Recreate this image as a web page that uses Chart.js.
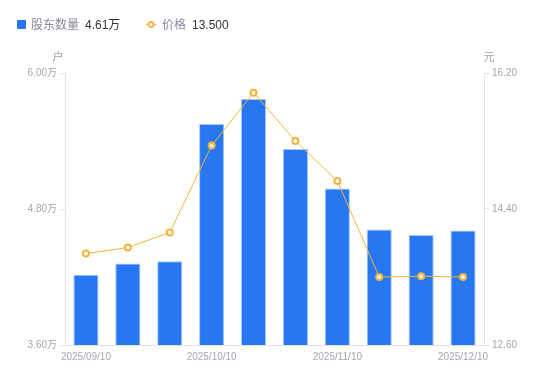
<!DOCTYPE html>
<html>
<head>
<meta charset="utf-8">
<script src="https://cdn.jsdelivr.net/npm/chart.js@4/dist/chart.umd.min.js"></script>
<style>
  html, body { margin: 0; padding: 0; background: #fff; }
  #wrap { position: relative; width: 550px; height: 381px; }
  #legend { position: absolute; left: 0; top: 16px; height: 18px; font-family: "Liberation Sans", "Noto Sans CJK SC", sans-serif; font-size: 12px; line-height: 18px; white-space: nowrap; }
  .item { position: absolute; top: 0; }
  .name { color: #878a99; }
  .val { color: #333; margin-left: 6px; }
  .sq { display: inline-block; width: 9px; height: 9px; background: #2777f2; border-radius: 1px; vertical-align: -0px; margin-right: 5px; }
  .ln { display: inline-block; width: 10px; height: 9px; vertical-align: 0px; margin-right: 6px; }
</style>
</head>
<body>
<div id="wrap">
  <canvas id="c" width="550" height="381"></canvas>
  <div id="legend">
    <div class="item" style="left:17px"><span class="sq"></span><span class="name">股东数量</span><span class="val" id="v1"></span></div>
    <div class="item" style="left:146px"><svg class="ln" viewBox="0 0 10 9"><line x1="0" y1="4.5" x2="10" y2="4.5" stroke="#f7b23b" stroke-width="1.2"/><circle cx="5" cy="4.5" r="2.6" fill="#fff" stroke="#f7b23b" stroke-width="1.8"/></svg><span class="name">价格</span><span class="val" id="v2"></span></div>
  </div>
</div>
<script>
const categories = ['2025/09/10','2025/09/19','2025/09/30','2025/10/10','2025/10/20','2025/10/31','2025/11/10','2025/11/20','2025/11/28','2025/12/10'];
const holders = [4.22, 4.32, 4.34, 5.55, 5.77, 5.33, 4.98, 4.62, 4.57, 4.61];   // 万户
const prices = [13.81, 13.89, 14.09, 15.24, 15.94, 15.30, 14.77, 13.50, 13.51, 13.50]; // 元
const leftTicks = [3.6, 4.8, 6.0];
const rightTicks = [12.6, 14.4, 16.2];

document.getElementById('v1').textContent = holders[holders.length-1].toFixed(2) + '万';
document.getElementById('v2').textContent = prices[prices.length-1].toFixed(3);

const FONT = '"Liberation Sans", "Noto Sans CJK SC", sans-serif';
const TICK_COLOR = '#a3a6b4';
const AXIS_COLOR = '#e3e3e6';

const unitPlugin = {
  id: 'units',
  afterDraw(chart) {
    const ctx = chart.ctx;
    ctx.save();
    ctx.font = '11px "Noto Sans CJK SC", sans-serif';
    ctx.fillStyle = '#9a9dab';
    ctx.textAlign = 'center';
    ctx.textBaseline = 'middle';
    ctx.fillText('户', chart.scales.y.right - 7, 57);
    ctx.fillText('元', chart.scales.y1.left + 5, 57);
    ctx.restore();
  }
};

new Chart(document.getElementById('c'), {
  data: {
    labels: categories,
    datasets: [
      {
        type: 'line', label: '价格', data: prices, yAxisID: 'y1', order: 0,
        borderColor: '#f7b23b', borderWidth: 1, tension: 0,
        pointRadius: 3, pointBorderWidth: 2, pointBackgroundColor: '#ffffff', pointBorderColor: '#f7b23b'
      },
      {
        type: 'bar', label: '股东数量', data: holders, yAxisID: 'y', order: 1,
        backgroundColor: '#2777f2', borderColor: '#a8c8fa', borderWidth: {top: 1, left: 1, right: 1, bottom: 0},
        borderSkipped: 'bottom', barPercentage: 0.6, categoryPercentage: 1.0
      }
    ]
  },
  options: {
    responsive: false,
    animation: false,
    layout: { padding: { top: 73, left: 0, right: 0, bottom: 0 } },
    plugins: { legend: { display: false }, tooltip: { enabled: false } },
    scales: {
      x: {
        grid: { display: false, drawTicks: false },
        border: { display: true, color: AXIS_COLOR },
        ticks: {
          autoSkip: false, maxRotation: 0, padding: 6,
          color: TICK_COLOR, font: { family: FONT, size: 10 },
          callback: function(v, i) { return i % 3 === 0 ? categories[i] : ''; }
        },
        afterFit(s) { s.height = 36; }
      },
      y: {
        position: 'left', min: 3.6, max: 6.0,
        grid: { drawOnChartArea: false, drawTicks: true, tickLength: 5, color: AXIS_COLOR },
        border: { display: true, color: AXIS_COLOR },
        afterBuildTicks(s) { s.ticks = leftTicks.map(v => ({ value: v })); },
        ticks: { padding: 3, color: TICK_COLOR, font: { family: FONT, size: 10 },
          callback: v => Number(v).toFixed(2) + '万' },
        afterFit(s) { s.width = 65; }
      },
      y1: {
        position: 'right', min: 12.6, max: 16.2,
        grid: { drawOnChartArea: false, drawTicks: true, tickLength: 5, color: AXIS_COLOR },
        border: { display: true, color: AXIS_COLOR },
        afterBuildTicks(s) { s.ticks = rightTicks.map(v => ({ value: v })); },
        ticks: { padding: 3, color: TICK_COLOR, font: { family: FONT, size: 10 },
          callback: v => Number(v).toFixed(2) },
        afterFit(s) { s.width = 66; }
      }
    }
  },
  plugins: [unitPlugin]
});
</script>
</body>
</html>
